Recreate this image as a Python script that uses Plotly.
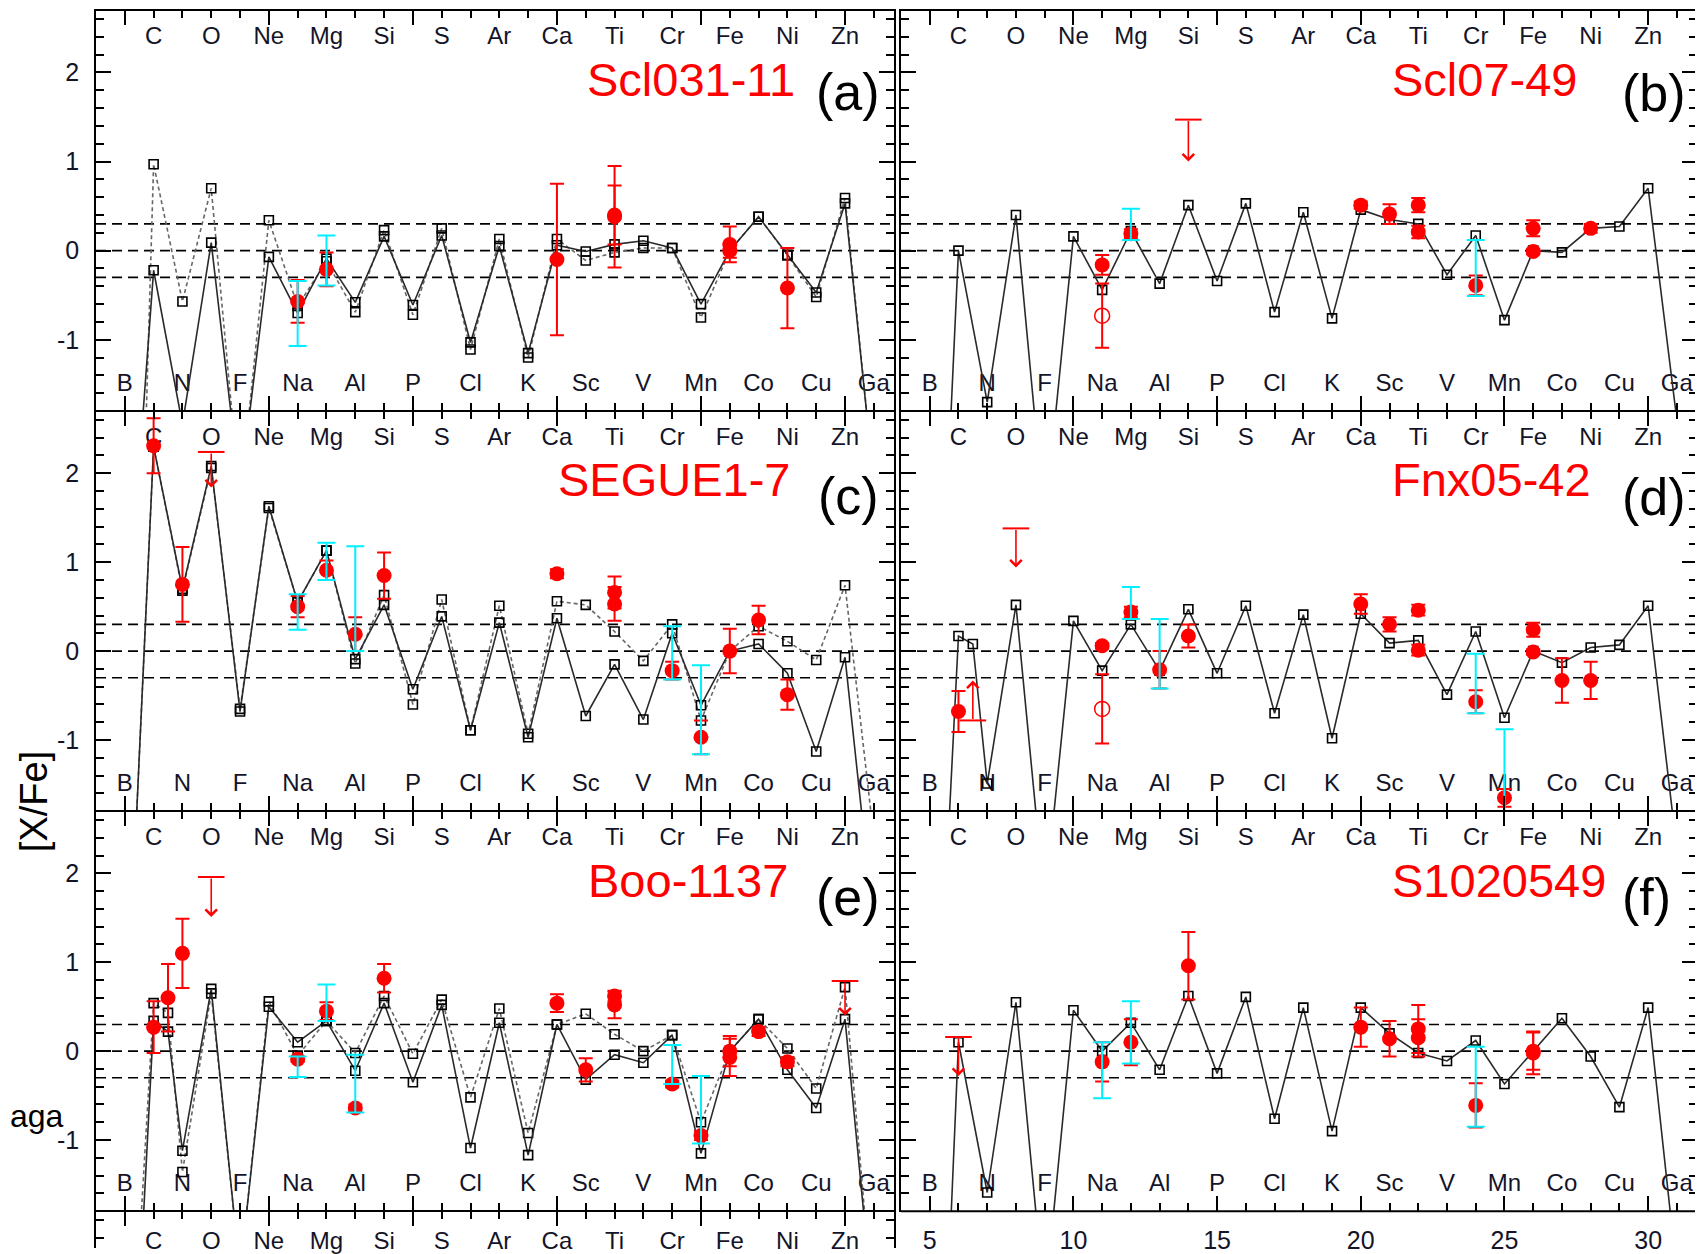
import plotly.graph_objects as go

REF_W, REF_H = 1703, 1254
OFF = 8                      # page body margin of the browser
W, H = REF_W - OFF, REF_H - OFF
FONT = "Liberation Sans, Arial, Helvetica, sans-serif"
INK = "#141428"

# ---------------- element labels / ticks ----------------
ODD_Z = [5, 7, 9, 11, 13, 15, 17, 19, 21, 23, 25, 27, 29, 31]
ODD_SYM = ["B", "N", "F", "Na", "Al", "P", "Cl", "K", "Sc", "V", "Mn", "Co", "Cu", "Ga"]
EVEN_Z = [6, 8, 10, 12, 14, 16, 18, 20, 22, 24, 26, 28, 30]
EVEN_SYM = ["C", "O", "Ne", "Mg", "Si", "S", "Ar", "Ca", "Ti", "Cr", "Fe", "Ni", "Zn"]
Z_MODEL = list(range(5, 32))
Z_MODEL_CN = [5, 6, 6.5] + list(range(7, 32))
X_TICKS = [5, 10, 15, 20, 25, 30]
Y_TICKS = [-1, 0, 1, 2]
Y_TICK_TEXT = ["-1", "0", "1", "2"]
REF_LEVELS = [0.3, 0.0, -0.3]

# ---------------- (a) Scl031-11 ----------------
A_SOLID = [-4.6, -0.22, -1.95, 0.09, -2.7, -0.07, -0.70, -0.09, -0.58, 0.16, -0.61, 0.17, -1.03, 0.05,
           -1.15, 0.06, -0.01, 0.07, 0.11, 0.03, -0.60, 0.0, 0.38, -0.05, -0.47, 0.53, -2.6]
A_DASH = [-10.0, 0.97, -0.57, 0.70, -2.8, 0.34, -0.62, -0.12, -0.69, 0.23, -0.72, 0.25, -1.11, 0.13,
          -1.20, 0.13, -0.11, -0.02, 0.03, 0.03, -0.75, 0.0, 0.38, -0.05, -0.52, 0.59, -2.6]
A_OBS_Z = [11, 12, 20, 22, 22, 26, 26, 28]
A_OBS_Y = [-0.57, -0.21, -0.10, 0.38, 0.40, 0.07, 0.00, -0.42]
A_OBS_ERR = [0.24, 0.19, 0.85, 0.57, 0.33, 0.20, 0.08, 0.45]
A_CYAN_Z = [11, 12]
A_CYAN_HI = [-0.34, 0.17]
A_CYAN_LO = [-1.07, -0.39]

# ---------------- (b) Scl07-49 ----------------
B_SOLID = [-7.0, 0.0, -1.70, 0.40, -3.06, 0.16, -0.44, 0.22, -0.37, 0.51, -0.34, 0.53, -0.69, 0.43,
           -0.76, 0.46, 0.35, 0.30, -0.27, 0.17, -0.78, 0.0, -0.02, 0.25, 0.27, 0.70, -1.9]
B_OBS_Z = [11, 12, 20, 21, 22, 22, 24, 26, 26, 28]
B_OBS_Y = [-0.16, 0.19, 0.51, 0.41, 0.51, 0.21, -0.39, 0.25, -0.01, 0.25]
B_OBS_ERR = [0.11, 0.05, 0.04, 0.11, 0.08, 0.07, 0.11, 0.09, 0.03, 0.05]
B_OPEN_Z = [11]
B_OPEN_Y = [-0.73]
B_OPEN_ERR = [0.36]
B_CYAN_Z = [12, 24]
B_CYAN_HI = [0.47, 0.12]
B_CYAN_LO = [0.12, -0.51]
B_UL_Z = [14]
B_UL_CAP = [1.47]
B_UL_TIP = [1.00]

# ---------------- (c) SEGUE1-7 ----------------
C_SOLID = [-4.7, 2.30, 0.70, 2.08, -0.68, 1.63, 0.55, 1.13, -0.09, 0.52, -0.43, 0.39, -0.89, 0.32,
           -0.97, 0.37, -0.73, -0.15, -0.77, 0.20, -0.61, 0.0, 0.08, -0.25, -1.13, -0.07, -3.1]
C_DASH = [-4.7, 2.30, 0.68, 2.06, -0.65, 1.61, 0.55, 1.13, -0.14, 0.63, -0.60, 0.58, -0.89, 0.51,
          -0.93, 0.56, 0.52, 0.22, -0.11, 0.30, -0.78, 0.0, 0.28, 0.11, -0.10, 0.74, -2.1]
C_OBS_Z = [6, 7, 11, 12, 13, 14, 20, 22, 22, 24, 25, 26, 27, 28]
C_OBS_Y = [2.31, 0.75, 0.50, 0.91, 0.19, 0.85, 0.87, 0.66, 0.53, -0.22, -0.97, 0.0, 0.35, -0.49]
C_OBS_ERR = [0.31, 0.42, 0.12, 0.11, 0.19, 0.26, 0.05, 0.18, 0.19, 0.10, 0.19, 0.25, 0.16, 0.17]
C_CYAN_Z = [11, 12, 13, 24, 25]
C_CYAN_HI = [0.64, 1.22, 1.18, 0.28, -0.16]
C_CYAN_LO = [0.24, 0.80, 0.0, -0.32, -1.16]
C_UL_Z = [8]
C_UL_CAP = [2.24]
C_UL_TIP = [1.84]

# ---------------- (d) Fnx05-42 ----------------
D_SOLID = [-6.2, 0.17, 0.08, -1.49, 0.52, -2.84, 0.34, -0.22, 0.30, -0.22, 0.47, -0.25, 0.51, -0.70,
           0.41, -0.98, 0.42, 0.09, 0.12, -0.49, 0.22, -0.75, 0.0, -0.13, 0.04, 0.07, 0.51, -2.24]
D_OBS_Z = [6, 11, 12, 13, 14, 20, 21, 22, 22, 24, 25, 26, 26, 27, 28]
D_OBS_Y = [-0.68, 0.06, 0.44, -0.21, 0.17, 0.53, 0.30, 0.46, 0.01, -0.57, -1.65, 0.24, -0.01, -0.33, -0.33]
D_OBS_ERR = [0.23, 0.03, 0.06, 0.21, 0.13, 0.11, 0.08, 0.06, 0.06, 0.13, 0.10, 0.08, 0.03, 0.25, 0.21]
D_OPEN_Z = [11]
D_OPEN_Y = [-0.65]
D_OPEN_ERR = [0.39]
D_CYAN_Z = [12, 13, 24, 25]
D_CYAN_HI = [0.72, 0.36, -0.03, -0.88]
D_CYAN_LO = [0.36, -0.42, -0.70, -2.40]
D_UL_Z = [8]
D_UL_CAP = [1.38]
D_UL_TIP = [0.94]
D_LL_Z = [6.5]
D_LL_CAP = [-0.78]
D_LL_TIP = [-0.33]

# ---------------- (e) Boo-1137 ----------------
E_SOLID = [-5.9, 0.34, 0.22, -1.12, 0.70, -2.5, 0.50, 0.10, 0.34, -0.22, 0.54, -0.35, 0.52, -1.09,
           0.32, -1.17, 0.30, -0.32, -0.04, -0.13, 0.18, -1.15, 0.0, 0.36, -0.21, -0.64, 0.36, -3.0]
E_DASH = [-5.0, 0.54, 0.43, -1.36, 0.65, -2.5, 0.56, -0.05, 0.34, -0.02, 0.62, -0.03, 0.58, -0.52,
          0.48, -0.92, 0.30, 0.42, 0.19, 0.0, 0.18, -0.80, 0.0, 0.36, 0.03, -0.42, 0.72, -3.0]
E_OBS_Z = [6, 6.5, 7, 11, 12, 13, 14, 20, 21, 22, 22, 24, 25, 26, 26, 27, 28]
E_OBS_Y = [0.27, 0.60, 1.10, -0.09, 0.45, -0.64, 0.82, 0.54, -0.21, 0.62, 0.52, -0.37, -0.95, 0.0, -0.07, 0.22, -0.12]
E_OBS_ERR = [0.29, 0.38, 0.39, 0.03, 0.10, 0.04, 0.16, 0.10, 0.13, 0.06, 0.15, 0.04, 0.05, 0.17, 0.21, 0.05, 0.05]
E_CYAN_Z = [11, 12, 13, 24, 25]
E_CYAN_HI = [-0.06, 0.75, -0.04, 0.07, -0.28]
E_CYAN_LO = [-0.29, 0.34, -0.69, -0.37, -1.04]
E_UL_Z = [8, 30]
E_UL_CAP = [1.96, 0.79]
E_UL_TIP = [1.51, 0.40]

# ---------------- (f) S1020549 ----------------
F_SOLID = [-7.5, 0.10, -1.59, 0.55, -2.85, 0.46, 0.0, 0.32, -0.21, 0.62, -0.25, 0.61, -0.76, 0.49,
           -0.90, 0.49, 0.20, -0.02, -0.11, 0.12, -0.37, 0.0, 0.37, -0.06, -0.63, 0.49, -2.5]
F_OBS_Z = [11, 12, 14, 20, 21, 22, 22, 24, 26, 26]
F_OBS_Y = [-0.12, 0.10, 0.96, 0.27, 0.14, 0.25, 0.15, -0.61, -0.02, 0.0]
F_OBS_ERR = [0.22, 0.26, 0.38, 0.22, 0.20, 0.27, 0.21, 0.25, 0.24, 0.21]
F_CYAN_Z = [11, 12, 24]
F_CYAN_HI = [0.10, 0.56, 0.05]
F_CYAN_LO = [-0.53, -0.14, -0.85]
F_UL_Z = [6]
F_UL_CAP = [0.16]
F_UL_TIP = [-0.28]

NAMES = ["Scl031-11", "Scl07-49", "SEGUE1-7", "Fnx05-42", "Boo-1137", "S1020549"]
TAGS = ["(a)", "(b)", "(c)", "(d)", "(e)", "(f)"]

PANELS = [
    dict(zs=Z_MODEL, solid=A_SOLID, dash=A_DASH, obs=(A_OBS_Z, A_OBS_Y, A_OBS_ERR),
         open=None, cyan=(A_CYAN_Z, A_CYAN_HI, A_CYAN_LO), ul=None, ll=None),
    dict(zs=Z_MODEL, solid=B_SOLID, dash=None, obs=(B_OBS_Z, B_OBS_Y, B_OBS_ERR),
         open=(B_OPEN_Z, B_OPEN_Y, B_OPEN_ERR), cyan=(B_CYAN_Z, B_CYAN_HI, B_CYAN_LO),
         ul=(B_UL_Z, B_UL_CAP, B_UL_TIP), ll=None),
    dict(zs=Z_MODEL, solid=C_SOLID, dash=C_DASH, obs=(C_OBS_Z, C_OBS_Y, C_OBS_ERR),
         open=None, cyan=(C_CYAN_Z, C_CYAN_HI, C_CYAN_LO), ul=(C_UL_Z, C_UL_CAP, C_UL_TIP), ll=None),
    dict(zs=Z_MODEL_CN, solid=D_SOLID, dash=None, obs=(D_OBS_Z, D_OBS_Y, D_OBS_ERR),
         open=(D_OPEN_Z, D_OPEN_Y, D_OPEN_ERR), cyan=(D_CYAN_Z, D_CYAN_HI, D_CYAN_LO),
         ul=(D_UL_Z, D_UL_CAP, D_UL_TIP), ll=(D_LL_Z, D_LL_CAP, D_LL_TIP)),
    dict(zs=Z_MODEL_CN, solid=E_SOLID, dash=E_DASH, obs=(E_OBS_Z, E_OBS_Y, E_OBS_ERR),
         open=None, cyan=(E_CYAN_Z, E_CYAN_HI, E_CYAN_LO), ul=(E_UL_Z, E_UL_CAP, E_UL_TIP), ll=None),
    dict(zs=Z_MODEL, solid=F_SOLID, dash=None, obs=(F_OBS_Z, F_OBS_Y, F_OBS_ERR),
         open=None, cyan=(F_CYAN_Z, F_CYAN_HI, F_CYAN_LO), ul=(F_UL_Z, F_UL_CAP, F_UL_TIP), ll=None),
]

# ---------------- layout geometry (reference pixels) ----------------
COLS = [(96, 894), (901, 1697)]
ROWS = [(10, 413), (413, 815), (815, 1217)]
PART_ROW = (1217, 1254)
X_RANGE = [4, 31.7]
Y_RANGE = [-1.8, 2.7]
PX_PER_Y = (ROWS[0][1] - ROWS[0][0]) / (Y_RANGE[1] - Y_RANGE[0])
LABEL_TOP_Y = Y_RANGE[1] - 28 / PX_PER_Y
LABEL_BOT_Y = Y_RANGE[0] + 26 / PX_PER_Y
PART_LABEL_Y = Y_RANGE[1] - 32 / PX_PER_Y
NAME_POS = [(691, 80), (1485, 80), (674, 482), (1491, 482), (688, 885), (1499, 885)]
TAG_POS = [(848, 92), (1654, 93), (848, 498), (1654, 499), (848, 901), (1646, 901)]


def px(x):
    return (x - OFF) / W


def py(y):
    return 1 - (y - OFF) / H


def xdom(c):
    return [max(0, px(c[0])), min(1, px(c[1]))]


def ydom(r):
    return [max(0, py(r[1])), min(1, py(r[0]))]


fig = go.Figure()
annotations = []
shapes = []

tick_font = dict(family=FONT, size=25, color=INK)


def x_axis(dom, anchor, labels=False, side="bottom", mirror="ticks"):
    return dict(domain=dom, range=X_RANGE, anchor=anchor, side=side,
                showline=True, linecolor="black", linewidth=1.2, mirror=mirror,
                ticks="inside", ticklen=15, tickwidth=2, tickcolor="black",
                tickmode="array", tickvals=X_TICKS, showticklabels=labels,
                tickfont=tick_font, ticklabelstandoff=7,
                minor=dict(tickmode="linear", tick0=0, dtick=1, ticks="inside", ticklen=8,
                           tickwidth=2, tickcolor="black", showgrid=False),
                showgrid=False, zeroline=False)


def y_axis(dom, anchor, labels=False, rng=Y_RANGE):
    return dict(domain=dom, range=rng, anchor=anchor,
                showline=True, linecolor="black", linewidth=1.7, mirror="ticks",
                ticks="inside", ticklen=15, tickwidth=2, tickcolor="black",
                tickmode="array", tickvals=Y_TICKS, ticktext=Y_TICK_TEXT,
                showticklabels=labels, tickfont=tick_font, ticklabelstandoff=10,
                minor=dict(tickmode="linear", tick0=0, dtick=0.2, ticks="inside", ticklen=8,
                           tickwidth=2, tickcolor="black", showgrid=False),
                showgrid=False, zeroline=False)


layout_axes = {}
label_font = dict(family=FONT, size=24, color=INK)


def add_element_labels(xa, ya, top_y, bottom=True):
    fig.add_trace(go.Scatter(x=EVEN_Z, y=[top_y] * len(EVEN_Z), text=EVEN_SYM,
                             mode="text", textfont=label_font, cliponaxis=False,
                             xaxis=xa, yaxis=ya, hoverinfo="skip"))
    if bottom:
        fig.add_trace(go.Scatter(x=ODD_Z, y=[LABEL_BOT_Y] * len(ODD_Z), text=ODD_SYM,
                                 mode="text", textfont=label_font, cliponaxis=False,
                                 xaxis=xa, yaxis=ya, hoverinfo="skip"))


for i, p in enumerate(PANELS):
    s = "" if i == 0 else str(i + 1)
    xa, ya = "x" + s, "y" + s
    row, col = i // 2, i % 2
    layout_axes["xaxis" + s] = x_axis(xdom(COLS[col]), ya, labels=(i == 5))
    layout_axes["yaxis" + s] = y_axis(ydom(ROWS[row]), xa, labels=(col == 0))

    for lv in REF_LEVELS:
        shapes.append(dict(type="line", xref=xa + " domain", x0=0, x1=1, yref=ya, y0=lv, y1=lv,
                           line=dict(color="black", width=1.6, dash="10px,6px"), layer="below"))

    add_element_labels(xa, ya, LABEL_TOP_Y)

    if p["dash"] is not None:
        fig.add_trace(go.Scatter(x=p["zs"], y=p["dash"], mode="lines+markers",
                                 line=dict(color="#666666", width=1.6, dash="4px,3px"),
                                 marker=dict(symbol="square-open", size=9, color="black",
                                             line=dict(width=1.6, color="black")),
                                 xaxis=xa, yaxis=ya))
    fig.add_trace(go.Scatter(x=p["zs"], y=p["solid"], mode="lines+markers",
                             line=dict(color="#2a2a2a", width=1.6),
                             marker=dict(symbol="square-open", size=9, color="black",
                                         line=dict(width=1.6, color="black")),
                             xaxis=xa, yaxis=ya))

    oz, oy, oe = p["obs"]
    fig.add_trace(go.Scatter(x=oz, y=oy, mode="markers",
                             marker=dict(symbol="circle", size=15, color="#ff0000"),
                             error_y=dict(type="data", array=oe, color="#ff0000", thickness=2, width=7),
                             xaxis=xa, yaxis=ya))
    if p["open"] is not None:
        qz, qy, qe = p["open"]
        fig.add_trace(go.Scatter(x=qz, y=qy, mode="markers",
                                 marker=dict(symbol="circle-open", size=15, color="#ff0000",
                                             line=dict(width=1.5, color="#ff0000")),
                                 error_y=dict(type="data", array=qe, color="#ff0000", thickness=2, width=7),
                                 xaxis=xa, yaxis=ya))
    cz, chi, clo = p["cyan"]
    mid = [(h + l) / 2 for h, l in zip(chi, clo)]
    half = [(h - l) / 2 for h, l in zip(chi, clo)]
    fig.add_trace(go.Scatter(x=cz, y=mid, mode="markers",
                             marker=dict(size=1, color="rgba(0,0,0,0)"),
                             error_y=dict(type="data", array=half, color="#00f0ff", thickness=2, width=9),
                             xaxis=xa, yaxis=ya))
    for lim in (p["ul"], p["ll"]):
        if lim is None:
            continue
        lz, lcap, ltip = lim
        fig.add_trace(go.Scatter(x=lz, y=lcap, mode="markers",
                                 marker=dict(symbol="line-ew", size=19,
                                             line=dict(color="#ff0000", width=2)),
                                 xaxis=xa, yaxis=ya))
        for z, c, t in zip(lz, lcap, ltip):
            annotations.append(dict(x=z, y=t, ax=z, ay=c, xref=xa, yref=ya, axref=xa, ayref=ya,
                                    text="", showarrow=True, arrowhead=4, arrowsize=1.4,
                                    arrowwidth=1.6, arrowcolor="#ff0000", standoff=0, startstandoff=0))

    nx, ny = NAME_POS[i]
    annotations.append(dict(x=px(nx), y=py(ny), xref="paper", yref="paper", text=NAMES[i],
                            showarrow=False, xanchor="center", yanchor="middle",
                            font=dict(family=FONT, size=47, color="#ff0000")))
    tx, ty = TAG_POS[i]
    annotations.append(dict(x=px(tx), y=py(ty), xref="paper", yref="paper", text=TAGS[i],
                            showarrow=False, xanchor="center", yanchor="middle",
                            font=dict(family=FONT, size=52, color="black")))

# outer frame edges drawn a bit heavier (top of first row, bottom of right column)
for c in COLS:
    shapes.append(dict(type="line", xref="paper", yref="paper", x0=px(c[0]), x1=px(c[1]),
                       y0=py(ROWS[0][0]), y1=py(ROWS[0][0]), line=dict(color="black", width=2)))
shapes.append(dict(type="line", xref="paper", yref="paper", x0=px(COLS[1][0]), x1=px(COLS[1][1]),
                   y0=py(ROWS[2][1]), y1=py(ROWS[2][1]), line=dict(color="black", width=2)))

# partial (cropped) panel below (e)
part_range = [Y_RANGE[1] - (PART_ROW[1] - PART_ROW[0]) / PX_PER_Y, Y_RANGE[1]]
layout_axes["xaxis7"] = x_axis(xdom(COLS[0]), "y7", side="top", mirror=False)
layout_axes["yaxis7"] = y_axis(ydom(PART_ROW), "x7", rng=part_range)
add_element_labels("x7", "y7", PART_LABEL_Y, bottom=False)

annotations.append(dict(x=px(34), y=py(806), xref="paper", yref="paper", text="[X/Fe]",
                        textangle=-90, showarrow=False, xanchor="center", yanchor="middle",
                        font=dict(family=FONT, size=38, color="black")))
annotations.append(dict(x=px(OFF), y=py(1121), xref="paper", yref="paper", text="aga",
                        showarrow=False, xanchor="left", yanchor="middle",
                        font=dict(family=FONT, size=32, color="black")))

fig.update_layout(
    width=W, height=H, autosize=False,
    margin=dict(l=0, r=0, t=0, b=0),
    paper_bgcolor="white", plot_bgcolor="white",
    showlegend=False,
    font=dict(family=FONT, color=INK),
    annotations=annotations, shapes=shapes,
    **layout_axes,
)

fig.write_html("out.html")
